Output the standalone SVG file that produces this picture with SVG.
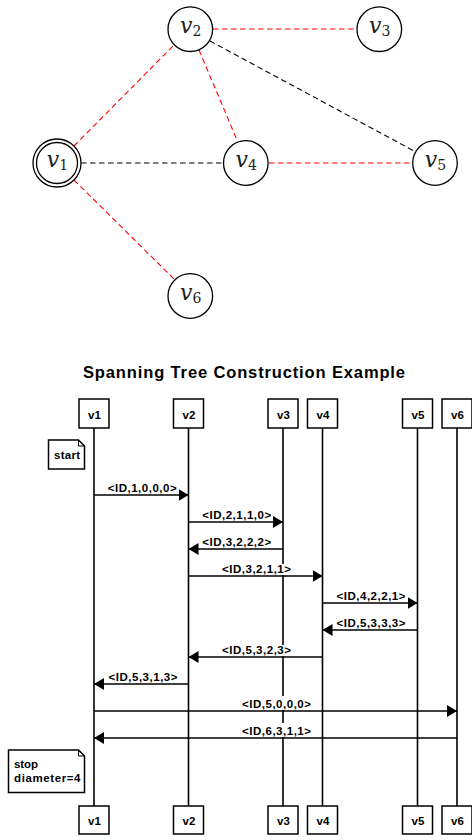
<svg xmlns="http://www.w3.org/2000/svg" width="472" height="840" viewBox="0 0 472 840">
<style>
.node{fill:#fff;stroke:#000;stroke-width:1.3}
.vl{font-family:"DejaVu Serif","Liberation Serif",serif;font-style:italic;font-size:22px;fill:#222;text-anchor:middle}
.sub{font-style:normal;font-size:14px}
.er{stroke:#ff0000;stroke-width:1.1;stroke-dasharray:5.5 3.5;fill:none}
.eb{stroke:#000;stroke-width:1.1;stroke-dasharray:5.5 3.5;fill:none}
.title{font-family:"Liberation Sans",Arial,sans-serif;font-weight:bold;font-size:16.5px;text-anchor:middle;fill:#000}
.box{fill:#fff;stroke:#000;stroke-width:1.5}
.bl{font-family:"Liberation Sans",Arial,sans-serif;font-weight:bold;font-size:11.5px;text-anchor:middle;fill:#000}
.life{stroke:#000;stroke-width:1.6}
.msg{stroke:#000;stroke-width:1.5;fill:none;marker-end:url(#ah)}
.ml{font-family:"Liberation Sans",Arial,sans-serif;font-weight:bold;font-size:11.5px;text-anchor:middle;fill:#000}
.bg{fill:#fff}
.note{fill:#fff;stroke:#000;stroke-width:1.5}
.nt{font-family:"Liberation Sans",Arial,sans-serif;font-weight:bold;font-size:11.5px;fill:#000}
</style>
<defs>
<marker id="ah" viewBox="0 0 10 12" refX="10" refY="6" markerWidth="10" markerHeight="12" markerUnits="userSpaceOnUse" orient="auto">
<path d="M0,0 L10,6 L0,12 Z" fill="#000"/>
</marker>
</defs>

<!-- graph edges -->
<g id="graph-edges">
<line class="er" x1="213" y1="29" x2="357" y2="29"/>
<line class="er" x1="74" y1="146" x2="173" y2="46"/>
<line class="er" x1="199" y1="50" x2="237" y2="140"/>
<line class="eb" x1="210" y1="41" x2="414" y2="151"/>
<line class="eb" x1="81" y1="163" x2="224" y2="163"/>
<line class="er" x1="269" y1="163" x2="412" y2="163"/>
<line class="er" x1="74" y1="180" x2="174" y2="279"/>
</g>

<g id="g-v1">
<circle class="node" cx="57" cy="163" r="24"/>
<circle class="node" cx="57" cy="163" r="20.5"/>
<text class="vl" x="57.5" y="167">v<tspan class="sub" dy="3">1</tspan></text>
</g>
<g id="g-v2">
<circle class="node" cx="190.3" cy="29.2" r="22.3"/>
<text class="vl" x="190.8" y="33">v<tspan class="sub" dy="3">2</tspan></text>
</g>
<g id="g-v3">
<circle class="node" cx="379.3" cy="29.2" r="22.3"/>
<text class="vl" x="379.8" y="33">v<tspan class="sub" dy="3">3</tspan></text>
</g>
<g id="g-v4">
<circle class="node" cx="245.8" cy="163" r="22.3"/>
<text class="vl" x="246.3" y="167">v<tspan class="sub" dy="3">4</tspan></text>
</g>
<g id="g-v5">
<circle class="node" cx="435" cy="163" r="22.3"/>
<text class="vl" x="435.5" y="167">v<tspan class="sub" dy="3">5</tspan></text>
</g>
<g id="g-v6">
<circle class="node" cx="190.3" cy="296" r="22.3"/>
<text class="vl" x="190.8" y="300">v<tspan class="sub" dy="3">6</tspan></text>
</g>

<!-- sequence diagram -->
<text class="title" x="244" y="378" textLength="322" lengthAdjust="spacing">Spanning Tree Construction Example</text>

<g id="lifelines">
<line class="life" x1="94" y1="428" x2="94" y2="806"/>
<line class="life" x1="188.5" y1="428" x2="188.5" y2="806"/>
<line class="life" x1="283" y1="428" x2="283" y2="806"/>
<line class="life" x1="322.5" y1="428" x2="322.5" y2="806"/>
<line class="life" x1="417.5" y1="428" x2="417.5" y2="806"/>
<line class="life" x1="457" y1="428" x2="457" y2="806"/>
</g>

<g id="p-v1">
<rect class="box" x="79" y="399" width="30" height="29"/><text class="bl" x="94.5" y="418.5">v1</text>
<rect class="box" x="79" y="806" width="30" height="28"/><text class="bl" x="94.5" y="825">v1</text>
</g>
<g id="p-v2">
<rect class="box" x="173.5" y="399" width="30" height="29"/><text class="bl" x="189" y="418.5">v2</text>
<rect class="box" x="173.5" y="806" width="30" height="28"/><text class="bl" x="189" y="825">v2</text>
</g>
<g id="p-v3">
<rect class="box" x="268" y="399" width="30" height="29"/><text class="bl" x="283.5" y="418.5">v3</text>
<rect class="box" x="268" y="806" width="30" height="28"/><text class="bl" x="283.5" y="825">v3</text>
</g>
<g id="p-v4">
<rect class="box" x="307.5" y="399" width="30" height="29"/><text class="bl" x="323" y="418.5">v4</text>
<rect class="box" x="307.5" y="806" width="30" height="28"/><text class="bl" x="323" y="825">v4</text>
</g>
<g id="p-v5">
<rect class="box" x="402.5" y="399" width="30" height="29"/><text class="bl" x="418" y="418.5">v5</text>
<rect class="box" x="402.5" y="806" width="30" height="28"/><text class="bl" x="418" y="825">v5</text>
</g>
<g id="p-v6">
<rect class="box" x="442" y="399" width="30" height="29"/><text class="bl" x="457.5" y="418.5">v6</text>
<rect class="box" x="442" y="806" width="30" height="28"/><text class="bl" x="457.5" y="825">v6</text>
</g>

<g id="note-start">
<path class="note" d="M48.5,440 H78.5 L84.5,446 V469 H48.5 Z"/>
<path d="M78.5,440 V446 H84.5" fill="none" stroke="#000" stroke-width="1"/>
<text class="nt" x="54" y="458.5" textLength="26" lengthAdjust="spacing">start</text>
</g>
<g id="note-stop">
<path class="note" d="M8.5,750 H78.5 L84.5,756 V792.5 H8.5 Z"/>
<path d="M78.5,750 V756 H84.5" fill="none" stroke="#000" stroke-width="1"/>
<text class="nt" x="14" y="768.3" textLength="24" lengthAdjust="spacing">stop</text>
<text class="nt" x="14" y="782.3" textLength="66.5" lengthAdjust="spacing">diameter=4</text>
</g>

<g id="messages">
<line class="msg" x1="94" y1="495" x2="188.5" y2="495"/>
<text class="ml" x="142.2" y="492.3" textLength="69" lengthAdjust="spacing">&lt;ID,1,0,0,0&gt;</text>

<line class="msg" x1="188.5" y1="522" x2="283" y2="522"/>
<text class="ml" x="236.7" y="519.3" textLength="69" lengthAdjust="spacing">&lt;ID,2,1,1,0&gt;</text>

<line class="msg" x1="283" y1="549" x2="188.5" y2="549"/>
<text class="ml" x="236.7" y="546.3" textLength="69" lengthAdjust="spacing">&lt;ID,3,2,2,2&gt;</text>

<rect class="bg" x="221" y="564" width="71" height="11"/>
<line class="msg" x1="188.5" y1="576" x2="322.5" y2="576"/>
<text class="ml" x="256.5" y="573.3" textLength="69" lengthAdjust="spacing">&lt;ID,3,2,1,1&gt;</text>

<line class="msg" x1="322.5" y1="603" x2="417.5" y2="603"/>
<text class="ml" x="371" y="600.3" textLength="69" lengthAdjust="spacing">&lt;ID,4,2,2,1&gt;</text>

<line class="msg" x1="417.5" y1="630" x2="322.5" y2="630"/>
<text class="ml" x="371" y="627.3" textLength="69" lengthAdjust="spacing">&lt;ID,5,3,3,3&gt;</text>

<rect class="bg" x="221" y="645" width="71" height="11"/>
<line class="msg" x1="322.5" y1="657" x2="188.5" y2="657"/>
<text class="ml" x="256.5" y="654.3" textLength="69" lengthAdjust="spacing">&lt;ID,5,3,2,3&gt;</text>

<line class="msg" x1="188.5" y1="684" x2="94" y2="684"/>
<text class="ml" x="143" y="681.3" textLength="69" lengthAdjust="spacing">&lt;ID,5,3,1,3&gt;</text>

<rect class="bg" x="241" y="696" width="71" height="14"/>
<line class="msg" x1="94" y1="711" x2="457" y2="711"/>
<text class="ml" x="276.5" y="708.3" textLength="69" lengthAdjust="spacing">&lt;ID,5,0,0,0&gt;</text>

<rect class="bg" x="241" y="723" width="71" height="14"/>
<line class="msg" x1="457" y1="738" x2="94" y2="738"/>
<text class="ml" x="276.5" y="735.3" textLength="69" lengthAdjust="spacing">&lt;ID,6,3,1,1&gt;</text>
</g>
</svg>
